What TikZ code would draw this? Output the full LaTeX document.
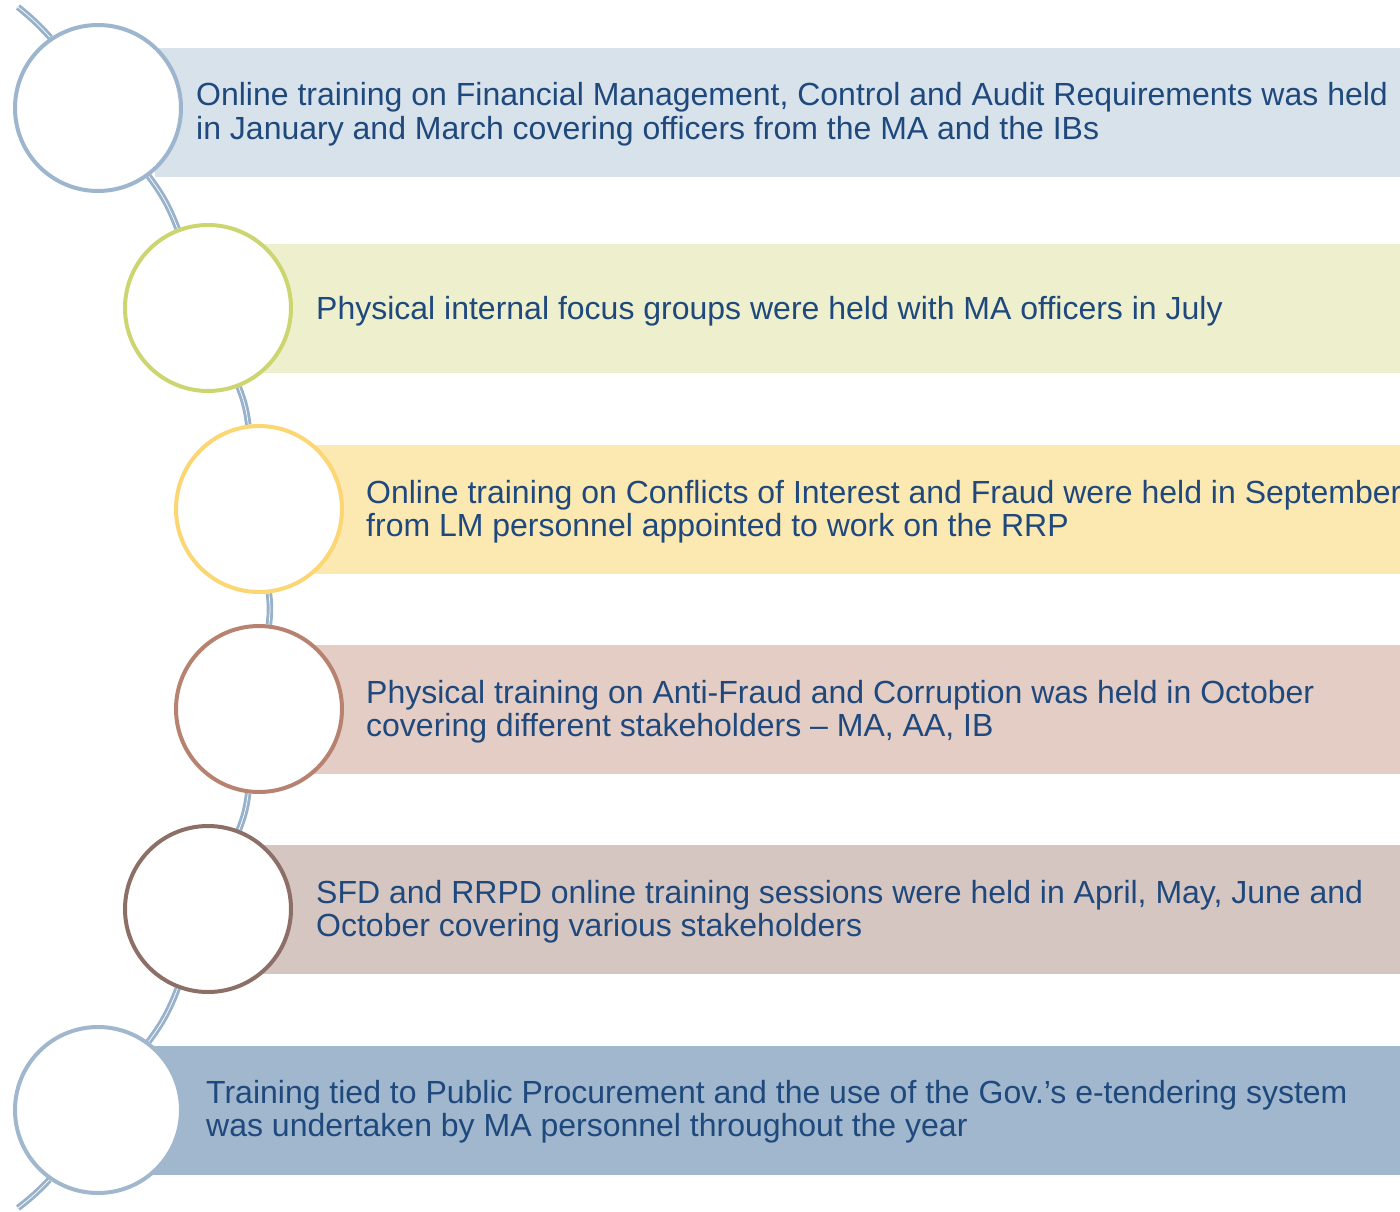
\documentclass[tikz,border=0pt]{standalone}
\usepackage{fontspec}
\setmainfont{Liberation Sans}
\definecolor{txtc}{RGB}{31,73,125}
\definecolor{spinec}{RGB}{152,178,204}
\definecolor{bandA}{RGB}{216,226,235}
\definecolor{bandB}{RGB}{238,240,205}
\definecolor{bandC}{RGB}{252,232,177}
\definecolor{bandD}{RGB}{227,205,197}
\definecolor{bandE}{RGB}{214,198,194}
\definecolor{bandF}{RGB}{160,183,205}
\definecolor{ringA}{RGB}{157,182,206}
\definecolor{ringB}{RGB}{204,213,111}
\definecolor{ringC}{RGB}{252,214,115}
\definecolor{ringD}{RGB}{184,130,112}
\definecolor{ringE}{RGB}{140,111,102}
\definecolor{ringF}{RGB}{160,183,205}
\pgfdeclarelayer{bg}
\pgfsetlayers{bg,main}
\begin{document}
\begin{tikzpicture}[x=1pt,y=-1pt,
  band/.style={rectangle, draw=none, inner sep=0pt, minimum height=129pt, minimum width=1300pt, anchor=north west},
  ring/.style={circle, fill=white, line width=4pt, minimum size=166pt, inner sep=0pt},
  spine/.style={draw=spinec, line width=6.5pt, postaction={draw=white, line width=0.7pt}},
  txt/.style={anchor=base west, inner sep=0pt, text=txtc, font=\fontsize{32}{33}\selectfont}]
\useasboundingbox (0,0) rectangle (1400,1212);
\clip (0,0) rectangle (1400,1212);

% circles
\node[ring, draw=ringA] (c1) at (98,108) {};
\node[ring, draw=ringB] (c2) at (208,308) {};
\node[ring, draw=ringC] (c3) at (259,509) {};
\node[ring, draw=ringD] (c4) at (259,709) {};
\node[ring, draw=ringE] (c5) at (208,909) {};
\node[ring, draw=ringF] (c6) at (98,1110) {};
\coordinate (top) at (18,7);
\coordinate (bot) at (18,1208);

% texts
\node[txt] (t1) at (196,106) {\begin{tabular}[t]{@{}l@{}}Online training on Financial Management, Control and Audit Requirements was held\\in January and March covering officers from the MA and the IBs\end{tabular}};
\node[txt] (t2) at (316,319) {Physical internal focus groups were held with MA officers in July};
\node[txt] (t3) at (366,503) {\begin{tabular}[t]{@{}l@{}}Online training on Conflicts of Interest and Fraud were held in September\\from LM personnel appointed to work on the RRP\end{tabular}};
\node[txt] (t4) at (366,703) {\begin{tabular}[t]{@{}l@{}}Physical training on Anti-Fraud and Corruption was held in October\\covering different stakeholders – MA, AA, IB\end{tabular}};
\node[txt] (t5) at (316,903) {\begin{tabular}[t]{@{}l@{}}SFD and RRPD online training sessions were held in April, May, June and\\October covering various stakeholders\end{tabular}};
\node[txt] (t6) at (206,1103) {\begin{tabular}[t]{@{}l@{}}Training tied to Public Procurement and the use of the Gov.’s e-tendering system\\was undertaken by MA personnel throughout the year\end{tabular}};

\begin{pgfonlayer}{bg}
\node[band, fill=bandA] (r1) at (155,48) {};
\node[band, fill=bandB] (r2) at (262,244) {};
\node[band, fill=bandC] (r3) at (314,445) {};
\node[band, fill=bandD] (r4) at (314,645) {};
\node[band, fill=bandE] (r5) at (262,845) {};
\node[band, fill=bandF] (r6) at (152,1046) {};
\draw[spine] (top) to[bend left=4.3] (c1);
\draw[spine] (c1) to[bend left=7.8] (c2);
\draw[spine] (c2) to[bend left=7] (c3);
\draw[spine] (c3) to[bend left=6.7] (c4);
\draw[spine] (c4) to[bend left=7] (c5);
\draw[spine] (c5) to[bend left=7.8] (c6);
\draw[spine] (c6) to[bend left=4.3] (bot);
\end{pgfonlayer}
\end{tikzpicture}
\end{document}
